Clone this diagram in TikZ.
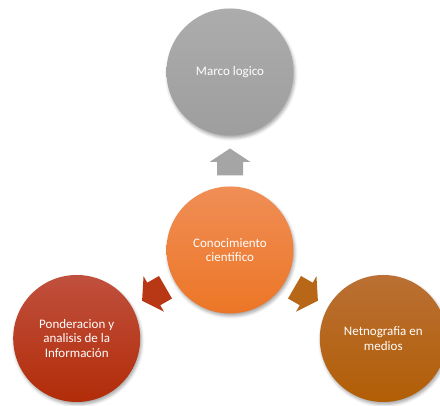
\documentclass[tikz,border=0pt]{standalone}
\usepackage{fontspec}
\setmainfont{Carlito}
\usetikzlibrary{calc,shadows.blur}
\definecolor{grayT}{RGB}{172,172,172}
\definecolor{grayB}{RGB}{158,158,158}
\definecolor{orT}{RGB}{240,142,86}
\definecolor{orB}{RGB}{236,118,38}
\definecolor{redT}{RGB}{192,80,62}
\definecolor{redB}{RGB}{178,44,8}
\definecolor{brT}{RGB}{186,112,52}
\definecolor{brB}{RGB}{178,94,6}
\definecolor{grayA}{RGB}{165,165,165}
\definecolor{redA}{RGB}{184,56,22}
\definecolor{brA}{RGB}{184,102,24}
\tikzset{
  circ/.style={circle, minimum size=127pt, inner sep=0pt, text=white,
    font=\fontsize{13}{14.2}\selectfont, align=center,
    blur shadow={shadow xshift=1.2pt, shadow yshift=-2.5pt, shadow blur radius=3pt, shadow opacity=35}},
  arrowshadow/.style={blur shadow={shadow xshift=1pt, shadow yshift=-2pt, shadow blur radius=2pt, shadow opacity=35}},
  blockarrow/.pic={\path[pic actions] (-13.5,-13) -- (0,-13) -- (0,-20.5) -- (13.5,0) -- (0,20.5) -- (0,13) -- (-13.5,13) -- cycle;}
}
\begin{document}
\begin{tikzpicture}[x=1pt,y=1pt]
\useasboundingbox (0,0) rectangle (440,406);
\node[circ, top color=grayT, bottom color=grayB] (top) at (230,334) {Marco logico};
\node[circ, top color=redT, bottom color=redB] (left) at (76.7,67.5) {Ponderacion y\\analisis de la\\Información};
\node[circ, top color=brT, bottom color=brB] (right) at (383.3,67.5) {Netnografia en\\medios};
\node[circ, top color=orT, bottom color=orB] (ctr) at (230,156) {Conocimiento\\cientifico};
\coordinate (aT) at ($(ctr.center)!88pt!(top.center)$);
\coordinate (aL) at ($(ctr.center)!88pt!(left.center)$);
\coordinate (aR) at ($(ctr.center)!88pt!(right.center)$);
\pic[rotate=90, fill=grayA, arrowshadow] at (aT) {blockarrow};
\pic[rotate=210, fill=redA, arrowshadow] at (aL) {blockarrow};
\pic[rotate=330, fill=brA, arrowshadow] at (aR) {blockarrow};
\end{tikzpicture}
\end{document}
